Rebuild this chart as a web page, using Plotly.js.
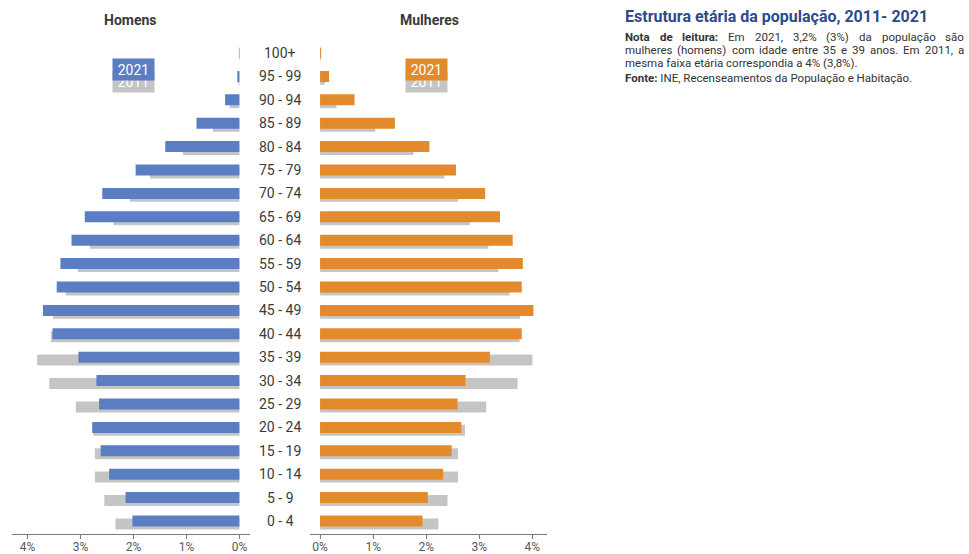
<!DOCTYPE html>
<html>
<head>
<meta charset="utf-8">
<script src="https://cdn.plot.ly/plotly-3.0.1.min.js"></script>
<style>
html,body{margin:0;padding:0;background:#fff;}
#chart{width:969px;height:554px;}
</style>
</head>
<body>
<div id="chart"></div>
<script>
// ---- data ----
const ages = ["100+","95 - 99","90 - 94","85 - 89","80 - 84","75 - 79","70 - 74","65 - 69","60 - 64","55 - 59","50 - 54","45 - 49","40 - 44","35 - 39","30 - 34","25 - 29","20 - 24","15 - 19","10 - 14","5 - 9","0 - 4"];
const men2021   = [0.01,0.04,0.27,0.81,1.40,1.96,2.59,2.92,3.17,3.38,3.45,3.71,3.53,3.04,2.70,2.65,2.78,2.62,2.46,2.15,2.02];
const men2011   = [0.005,0.02,0.18,0.50,1.07,1.69,2.07,2.38,2.82,3.05,3.28,3.52,3.56,3.82,3.59,3.09,2.76,2.73,2.73,2.55,2.34];
const women2021 = [0.02,0.17,0.65,1.41,2.06,2.56,3.11,3.39,3.63,3.82,3.80,4.02,3.80,3.20,2.74,2.59,2.66,2.48,2.32,2.03,1.93];
const women2011 = [0.01,0.09,0.31,1.04,1.76,2.34,2.60,2.82,3.17,3.36,3.57,3.77,3.76,4.00,3.72,3.13,2.73,2.60,2.60,2.40,2.23];
const xTicks = [0,1,2,3,4];
const xTickText = ["0%","1%","2%","3%","4%"];
const sexLabels = ["Homens","Mulheres"];
const yearLabels = ["2021","2011"];
const titleText = "Estrutura etária da população, 2011- 2021";
const noteLines = [
  [["Nota",1],["de",1],["leitura:",1],["Em",0],["2021,",0],["3,2%",0],["(3%)",0],["da",0],["população",0],["são",0]],
  [["mulheres",0],["(homens)",0],["com",0],["idade",0],["entre",0],["35",0],["e",0],["39",0],["anos.",0],["Em",0],["2011,",0],["a",0]]
];
const noteLast = "mesma faixa etária correspondia a 4% (3,8%).";
const sourceText = "<b>Fonte:</b> INE, Recenseamentos da População e Habitação.";

// ---- styling ----
const W = 969, H = 554;
const BLUE = "#5b7ec2", ORANGE = "#e28a2c", GREY = "#c5c5c5";
const FONT = "Roboto";
const px = v => v / W;
const py = v => 1 - v / H;

const catOrder = ages.slice().reverse();

function barTrace(x, color, xa, ya, isOld) {
  return {
    type: "bar", orientation: "h", x: x, y: ages,
    xaxis: xa, yaxis: ya,
    marker: {color: color, line: {width: 0}},
    width: 0.47, offset: isOld ? -0.36 : -0.235,
    hoverinfo: "skip"
  };
}

const data = [
  barTrace(men2011, GREY, "x", "y", true),
  barTrace(men2021, BLUE, "x", "y", false),
  barTrace(women2011, GREY, "x2", "y2", true),
  barTrace(women2021, ORANGE, "x2", "y2", false)
];

function xAxis(domain, range, anchor) {
  return {
    domain: domain, range: range, anchor: anchor,
    showline: true, linecolor: "#7a7a7a", linewidth: 1,
    ticks: "outside", ticklen: 4, tickcolor: "#7a7a7a",
    tickmode: "array", tickvals: xTicks, ticktext: xTickText,
    ticklabelstandoff: -2,
    tickfont: {family: FONT, size: 12, color: "#5a5a5a"},
    showgrid: false, zeroline: false, fixedrange: true
  };
}
function yAxis(anchor) {
  return {
    domain: [20 / H, 514 / H], range: [-0.556, 20.556], anchor: anchor,
    type: "category", categoryorder: "array", categoryarray: catOrder,
    visible: false, showgrid: false, zeroline: false, fixedrange: true
  };
}

const annotations = [];
ages.forEach(a => annotations.push({
  x: px(280), xref: "paper", y: a, yref: "y", text: a, showarrow: false,
  xanchor: "center", yanchor: "middle",
  font: {family: FONT, size: 14, color: "#3a3a3a"}
}));
[[sexLabels[0], 130], [sexLabels[1], 429]].forEach(([t, x]) => annotations.push({
  x: px(x), xref: "paper", y: py(20), yref: "paper", text: "<b>" + t + "</b>",
  showarrow: false, xanchor: "center", yanchor: "middle",
  font: {family: FONT, size: 14, color: "#3a3a3a"}
}));
// legend boxes
[[133, BLUE], [426.5, ORANGE]].forEach(([cx, col]) => {
  annotations.push({
    x: px(cx), xref: "paper", y: py(82), yref: "paper", text: yearLabels[1],
    showarrow: false, xanchor: "center", yanchor: "middle",
    bgcolor: GREY, width: 41, height: 20, borderpad: 0,
    font: {family: FONT, size: 14, color: "#ffffff"}
  });
  annotations.push({
    x: px(cx), xref: "paper", y: py(69.5), yref: "paper", text: yearLabels[0],
    showarrow: false, xanchor: "center", yanchor: "middle",
    bgcolor: col, width: 41, height: 21, borderpad: 0,
    font: {family: FONT, size: 14, color: "#ffffff"}
  });
});

// text block
const TX0 = 624, TX1 = 963, NOTE_SIZE = 11.5;
annotations.push({
  x: px(TX0), xref: "paper", y: py(17), yref: "paper", text: "<b>" + titleText + "</b>",
  showarrow: false, xanchor: "left", yanchor: "middle", borderpad: 0,
  font: {family: FONT, size: 16, color: "#2c4b8c"}
});
const ctx = document.createElement("canvas").getContext("2d");
function measure(t, bold) {
  ctx.font = (bold ? "bold " : "") + NOTE_SIZE + "px " + FONT;
  return ctx.measureText(t).width;
}
const lineY = [36.5, 49.8];
noteLines.forEach((words, li) => {
  const widths = words.map(w => measure(w[0], w[1]));
  const total = widths.reduce((s, v) => s + v, 0);
  const gap = Math.max(2.5, (TX1 - TX0 - total) / (words.length - 1));
  let x = TX0;
  words.forEach((w, i) => {
    annotations.push({
      x: px(x), xref: "paper", y: py(lineY[li]), yref: "paper",
      text: w[1] ? "<b>" + w[0] + "</b>" : w[0],
      showarrow: false, xanchor: "left", yanchor: "middle", borderpad: 0,
      font: {family: FONT, size: NOTE_SIZE, color: "#333"}
    });
    x += widths[i] + gap;
  });
});
annotations.push({
  x: px(TX0), xref: "paper", y: py(63.1), yref: "paper", text: noteLast,
  showarrow: false, xanchor: "left", yanchor: "middle", borderpad: 0,
  font: {family: FONT, size: NOTE_SIZE, color: "#333"}
});
annotations.push({
  x: px(TX0), xref: "paper", y: py(78), yref: "paper", text: sourceText,
  showarrow: false, xanchor: "left", yanchor: "middle", borderpad: 0,
  font: {family: FONT, size: NOTE_SIZE, color: "#333"}
});

const layout = {
  width: W, height: H,
  margin: {l: 0, r: 0, t: 0, b: 0, pad: 0},
  paper_bgcolor: "#fff", plot_bgcolor: "#fff",
  showlegend: false, barmode: "overlay",
  font: {family: FONT},
  xaxis: xAxis([11.7 / W, 250 / W], [4.3, -0.2], "y"),
  xaxis2: xAxis([310 / W, 546.7 / W], [-0.19, 4.27], "y2"),
  yaxis: yAxis("x"),
  yaxis2: yAxis("x2"),
  annotations: annotations
};

Plotly.newPlot("chart", data, layout, {displayModeBar: false, staticPlot: true});
</script>
</body>
</html>
